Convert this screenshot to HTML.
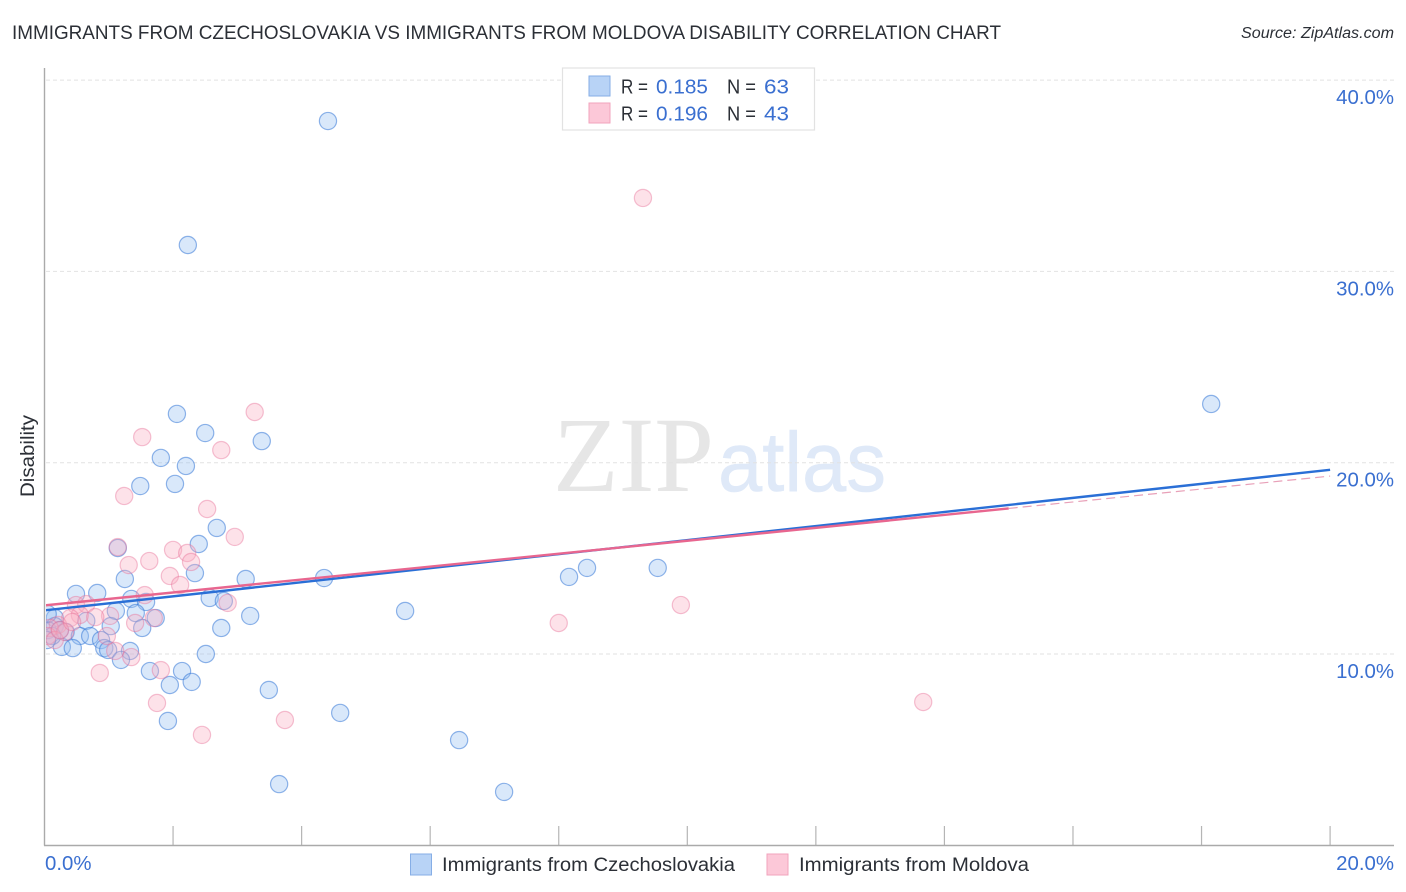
<!DOCTYPE html>
<html lang="en">
<head>
<meta charset="utf-8">
<title>Immigrants from Czechoslovakia vs Immigrants from Moldova Disability Correlation Chart</title>
<style>
html,body{margin:0;padding:0;background:#fff;}
svg{display:block;font-family:"Liberation Sans",sans-serif;}
</style>
</head>
<body>
<svg id="chart" width="1406" height="892" viewBox="0 0 1406 892" xmlns="http://www.w3.org/2000/svg">
  <defs>
    <clipPath id="plot-clip"><rect x="46" y="60" width="1350" height="785"/></clipPath>
  </defs>
  <text x="12" y="39" font-size="19" fill="#2b2f36" textLength="989" lengthAdjust="spacingAndGlyphs">IMMIGRANTS FROM CZECHOSLOVAKIA VS IMMIGRANTS FROM MOLDOVA DISABILITY CORRELATION CHART</text>
  <text x="1241" y="38" font-size="15.5" font-style="italic" fill="#2b2f36" textLength="153" lengthAdjust="spacingAndGlyphs">Source: ZipAtlas.com</text>

  <g>
    <text x="553" y="491" font-family="'Liberation Serif',serif" font-size="107" fill="#e6e6e6" textLength="161" lengthAdjust="spacingAndGlyphs">ZIP</text>
    <text x="718" y="491" font-size="84" fill="#dfe9f8" stroke="#dfe9f8" stroke-width="0.6" textLength="168" lengthAdjust="spacingAndGlyphs">atlas</text>
  </g>

  <g id="grid"></g>
  <g id="ticks"></g>
  <line x1="44.5" y1="68" x2="44.5" y2="845.5" stroke="#aaaaaa" stroke-width="1.4"/>
  <line x1="44" y1="845.5" x2="1394" y2="845.5" stroke="#aaaaaa" stroke-width="1.4"/>

  <g id="ylabels"></g>
  <g id="xlabels"></g>
  <text transform="translate(34,497) rotate(-90)" font-size="19" fill="#2b2f36" textLength="82" lengthAdjust="spacingAndGlyphs">Disability</text>

  <g id="points" clip-path="url(#plot-clip)"></g>
  <g id="trends" clip-path="url(#plot-clip)"></g>

  <g>
    <rect x="562.5" y="68" width="252" height="62" fill="#ffffff" stroke="#e2e2e2" stroke-width="1.2"/>
    <rect x="589" y="76" width="21" height="20" fill="#b8d3f6" stroke="#86aee6" stroke-width="1"/>
    <rect x="589" y="103" width="21" height="20" fill="#fcc8d8" stroke="#f2a3bc" stroke-width="1"/>
    <g font-size="20">
      <text x="621" y="93.5" fill="#2b2f36" textLength="27" lengthAdjust="spacingAndGlyphs">R =</text>
      <text x="656" y="93.5" fill="#3a6fd0" textLength="52" lengthAdjust="spacingAndGlyphs">0.185</text>
      <text x="727" y="93.5" fill="#2b2f36" textLength="29" lengthAdjust="spacingAndGlyphs">N =</text>
      <text x="764" y="93.5" fill="#3a6fd0" textLength="25" lengthAdjust="spacingAndGlyphs">63</text>
      <text x="621" y="120.5" fill="#2b2f36" textLength="27" lengthAdjust="spacingAndGlyphs">R =</text>
      <text x="656" y="120.5" fill="#3a6fd0" textLength="52" lengthAdjust="spacingAndGlyphs">0.196</text>
      <text x="727" y="120.5" fill="#2b2f36" textLength="29" lengthAdjust="spacingAndGlyphs">N =</text>
      <text x="764" y="120.5" fill="#3a6fd0" textLength="25" lengthAdjust="spacingAndGlyphs">43</text>
    </g>
  </g>

  <g>
    <g>
      <rect x="410.5" y="854" width="21" height="21" fill="#b8d3f6" stroke="#86aee6" stroke-width="1"/>
      <text x="442" y="871" font-size="19" fill="#2b2f36" textLength="293" lengthAdjust="spacingAndGlyphs">Immigrants from Czechoslovakia</text>
    </g>
    <g>
      <rect x="767" y="854" width="21" height="21" fill="#fcc8d8" stroke="#f2a3bc" stroke-width="1"/>
      <text x="799" y="871" font-size="19" fill="#2b2f36" textLength="230" lengthAdjust="spacingAndGlyphs">Immigrants from Moldova</text>
    </g>
  </g>
</svg>

<script>
const yTickValues = [10, 20, 30, 40];
const yTickLabels = ["10.0%", "20.0%", "30.0%", "40.0%"];
const xTickValues = [2, 4, 6, 8, 10, 12, 14, 16, 18, 20];
const xEndValues = [0, 20];
const xEndLabels = ["0.0%", "20.0%"];

const czechX = [4.41,2.23,18.15,2.06,2.50,3.38,1.81,2.20,2.03,1.49,2.68,2.40,1.14,2.34,1.25,3.13,4.35,8.16,8.44,9.54,0.49,0.82,1.35,1.58,2.57,2.79,5.61,3.20,1.11,1.42,1.73,0.65,0.16,1.03,2.75,1.52,0.16,0.05,0.24,0.33,0.55,0.71,0.88,0.27,0.44,0.93,0.99,1.33,2.51,1.19,1.64,2.14,1.95,2.29,3.49,4.60,1.92,6.45,3.65,7.15,0.05,0.12,0.04];
const czechY = [37.86,31.38,23.07,22.55,21.55,21.13,20.25,19.83,18.89,18.78,16.59,15.75,15.54,14.23,13.92,13.92,13.97,14.03,14.50,14.50,13.14,13.19,12.88,12.72,12.93,12.77,12.25,11.99,12.25,12.14,11.88,11.73,11.88,11.46,11.36,11.36,11.46,11.25,11.25,11.15,10.94,10.94,10.73,10.37,10.31,10.31,10.21,10.16,10.00,9.69,9.11,9.11,8.38,8.54,8.12,6.92,6.50,5.50,3.20,2.79,12.09,10.94,10.73];

const moldovaX = [9.31,3.27,1.52,2.75,1.24,2.53,2.96,1.14,2.00,2.22,2.28,1.63,1.31,1.95,2.11,1.56,2.85,9.90,8.00,1.70,1.41,1.02,0.97,1.10,1.35,1.81,0.86,1.75,3.74,2.45,13.67,0.49,0.65,0.55,0.79,0.40,0.21,0.08,0.32,0.05,0.16,0.24,0.43];
const moldovaY = [33.84,22.65,21.34,20.66,18.26,17.58,16.12,15.59,15.44,15.28,14.81,14.86,14.65,14.08,13.61,13.08,12.67,12.56,11.62,11.88,11.62,11.99,10.94,10.16,9.84,9.16,9.01,7.44,6.55,5.77,7.49,12.56,12.61,12.04,11.93,11.88,11.52,11.36,11.15,10.94,10.73,11.25,11.67];

const czechTrendX = [0, 20];
const czechTrendY = [12.28, 19.63];
const moldovaSolidX = [0, 15];
const moldovaSolidY = [12.54, 17.61];
const moldovaDashX = [15, 20];
const moldovaDashY = [17.61, 19.30];

const SVGNS = "http://www.w3.org/2000/svg";
function sx(v) { return 44.5 + v * 64.28; }
function sy(v) { return 654 - (v - 10) * 19.13; }
function make(tag, attrs, parent) {
  const el = document.createElementNS(SVGNS, tag);
  for (const k in attrs) el.setAttribute(k, attrs[k]);
  parent.appendChild(el);
  return el;
}

const grid = document.getElementById("grid");
const ylabels = document.getElementById("ylabels");
yTickValues.forEach(function (v, i) {
  const line = make("line", {x1: 46, x2: 1394, y1: sy(v), y2: sy(v), stroke: "#e2e2e2", "stroke-width": 1, "stroke-dasharray": "4 3"}, grid);
  
  
  const t = make("text", {x: 1394, y: sy(v) + 24, "font-size": 20.4, fill: "#3a6fd0", "text-anchor": "end"}, ylabels);
  
  
  t.textContent = yTickLabels[i];
});

const ticks = document.getElementById("ticks");
xTickValues.forEach(function (v) {
  const line = make("line", {x1: sx(v), x2: sx(v), y1: 826, y2: 845, stroke: "#b5b5b5", "stroke-width": 1.2}, ticks);
  
  
});

const xlabels = document.getElementById("xlabels");
xEndValues.forEach(function (v, i) {
  const t = make("text", {x: i === 0 ? sx(v) + 0.5 : 1394, y: 870, "font-size": 20.4, fill: "#3a6fd0", "text-anchor": i === 0 ? "start" : "end"}, xlabels);
  
  
  t.textContent = xEndLabels[i];
});

const points = document.getElementById("points");
czechX.forEach(function (v, i) {
  const c = make("circle", {cx: sx(v), cy: sy(czechY[i]), r: 8.6, fill: "rgba(150,190,240,0.36)", stroke: "rgba(55,120,215,0.55)", "stroke-width": 1.2}, points);
  
  
});
moldovaX.forEach(function (v, i) {
  const c = make("circle", {cx: sx(v), cy: sy(moldovaY[i]), r: 8.6, fill: "rgba(250,175,195,0.36)", stroke: "rgba(232,110,150,0.42)", "stroke-width": 1.2}, points);
  
  
});

const trends = document.getElementById("trends");
const trendA = make("line", {x1: sx(czechTrendX[0]), y1: sy(czechTrendY[0]), x2: sx(czechTrendX[1]), y2: sy(czechTrendY[1]), stroke: "#2a6fd6", "stroke-width": 2.4}, trends);


const trendB = make("line", {x1: sx(moldovaSolidX[0]), y1: sy(moldovaSolidY[0]), x2: sx(moldovaSolidX[1]), y2: sy(moldovaSolidY[1]), stroke: "#e8668f", "stroke-width": 2.4}, trends);


const trendC = make("line", {x1: sx(moldovaDashX[0]), y1: sy(moldovaDashY[0]), x2: sx(moldovaDashX[1]), y2: sy(moldovaDashY[1]), stroke: "#e8a0b8", "stroke-width": 1.2, "stroke-dasharray": "9 5"}, trends);


</script>
</body>
</html>
